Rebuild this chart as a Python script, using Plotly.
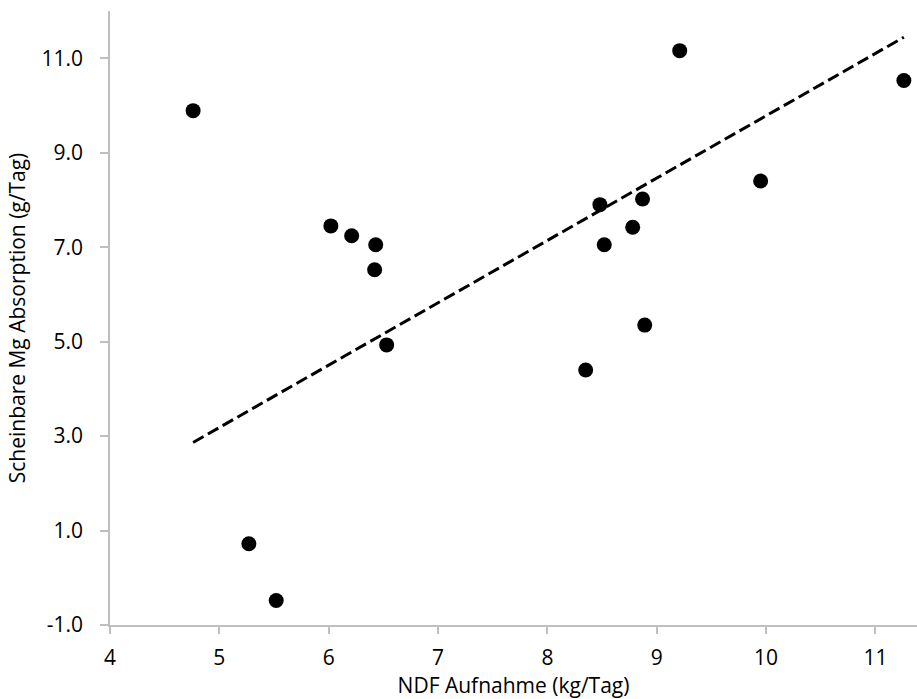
import plotly.graph_objects as go

# NDF intake (kg/day) and apparent Mg absorption (g/day)
ndf_intake = [4.76, 6.02, 6.21, 6.43, 6.42, 6.53, 9.21, 11.26, 9.95,
              8.48, 8.87, 8.78, 8.52, 8.89, 8.35, 5.27, 5.52]
mg_absorption = [9.89, 7.45, 7.24, 7.05, 6.52, 4.93, 11.16, 10.53, 8.40,
                 7.90, 8.02, 7.42, 7.05, 5.35, 4.40, 0.72, -0.48]

# Regression line y = intercept + slope * x
fit_intercept = -3.418
fit_slope = 1.32

# Axis ticks
x_ticks = [4, 5, 6, 7, 8, 9, 10, 11]
y_ticks = [-1, 1, 3, 5, 7, 9, 11]
y_tick_labels = ["-1.0", "1.0", "3.0", "5.0", "7.0", "9.0", "11.0"]

x_lo, x_hi = min(ndf_intake), max(ndf_intake)
fit_x = [x_lo, x_hi]
fit_y = [fit_intercept + fit_slope * v for v in fit_x]

font_family = "'Open Sans', 'Liberation Sans', sans-serif"
font_size = 21
axis_grey = "#BFBFBF"

fig = go.Figure()
fig.add_trace(go.Scatter(
    x=fit_x, y=fit_y, mode="lines",
    line=dict(color="black", width=3, dash="12px,5px"),
    hoverinfo="skip", showlegend=False,
))
fig.add_trace(go.Scatter(
    x=ndf_intake, y=mg_absorption, mode="markers",
    marker=dict(color="black", size=15, line=dict(width=0)),
    showlegend=False,
))

fig.update_layout(
    width=917, height=699,
    margin=dict(l=110, r=0, t=11, b=74, pad=0),
    paper_bgcolor="white", plot_bgcolor="white",
    font=dict(family=font_family, size=font_size, color="black"),
)
fig.update_xaxes(
    range=[4, 11.38],
    tickvals=x_ticks,
    showgrid=False, zeroline=False,
    showline=True, linecolor=axis_grey, linewidth=1.5,
    ticks="outside", ticklen=7, tickcolor=axis_grey, tickwidth=1.5,
    ticklabelstandoff=6,
    tickfont=dict(family=font_family, size=font_size),
    title=dict(text="NDF Aufnahme (kg/Tag)", standoff=0,
               font=dict(family=font_family, size=font_size)),
)
fig.update_yaxes(
    range=[-1, 12],
    tickvals=y_ticks, ticktext=y_tick_labels,
    showgrid=False, zeroline=False,
    showline=True, linecolor=axis_grey, linewidth=1.5,
    ticks="outside", ticklen=8, tickcolor=axis_grey, tickwidth=1.5,
    ticklabelstandoff=13,
    tickfont=dict(family=font_family, size=font_size),
    title=dict(text="Scheinbare Mg Absorption (g/Tag)", standoff=10,
               font=dict(family=font_family, size=font_size)),
)

fig.write_html("out.html")
